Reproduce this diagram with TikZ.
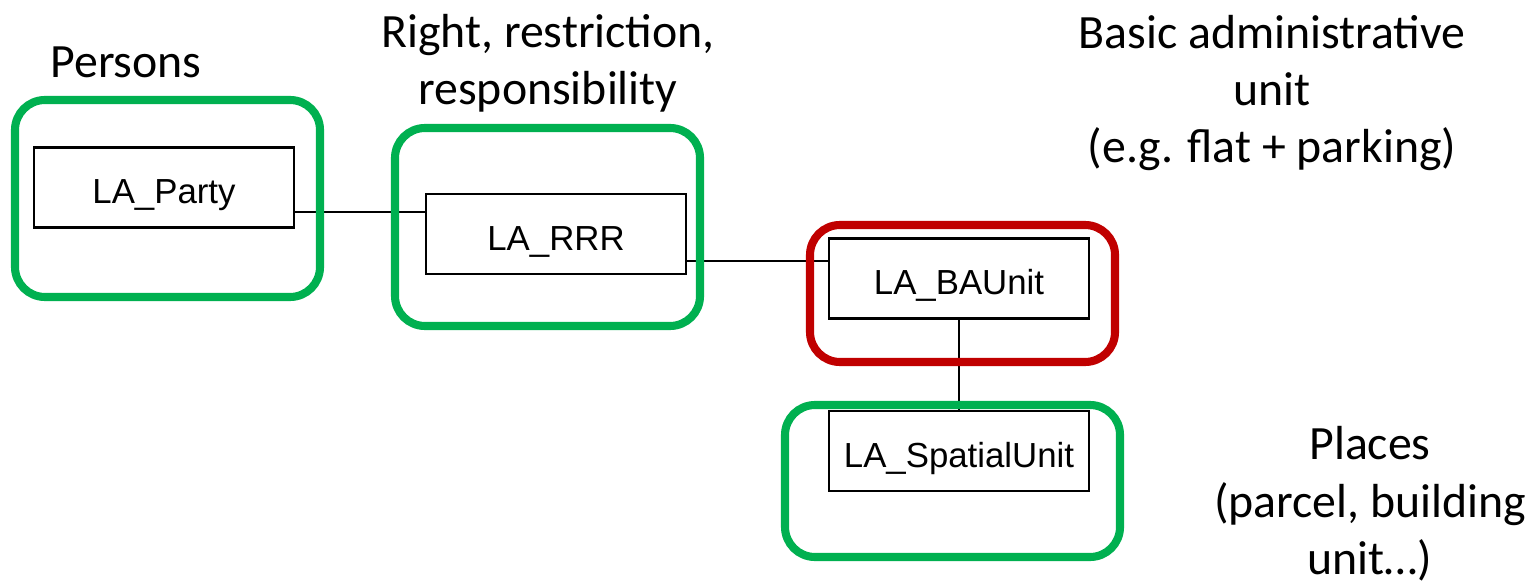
\documentclass[tikz,border=0pt]{standalone}
\usepackage{fontspec}
\setmainfont{Carlito}
\newfontfamily\umlfont{Liberation Sans}
\usetikzlibrary{calc,positioning}
\definecolor{hlgreen}{HTML}{00B050}
\definecolor{hlred}{HTML}{C00000}

\begin{document}
\begin{tikzpicture}
        \useasboundingbox (0,0) rectangle (15.37,5.83);
        \tikzset{
            umlclass/.style={draw, line width=0.6pt, minimum width=2.6cm, minimum height=0.8cm, inner sep=0pt, text height=0.45cm, text depth=0.12cm, font=\umlfont\fontsize{9.9}{11}\selectfont},
            note/.style={align=center, inner sep=0pt, font=\fontsize{13.6}{16.3}\selectfont},
            hlbox/.style={rounded corners=0.3cm, line width=2.3pt}
        }
        % classes
        \node[umlclass] (party) at (1.64,3.955) {LA\_Party};
        \node[umlclass] (rrr) at (5.56,3.49) {LA\_RRR};
        \node[umlclass] (baunit) at (9.59,3.045) {LA\_BAUnit};
        \node[umlclass] (spatial) at (9.59,1.32) {LA\_SpatialUnit};
        % associations
        \coordinate (p1) at ($(party.south east)!0.2!(party.north east)$);
        \coordinate (r1) at ($(rrr.south east)!0.175!(rrr.north east)$);
        \draw[line width=0.6pt] (p1) -- (p1 -| rrr.west);
        \draw[line width=0.6pt] (r1) -- (r1 -| baunit.west);
        \draw[line width=0.6pt] (baunit.south) -- (spatial.north);
        % highlights
        \draw[hlbox, hlgreen] (0.15,2.86) rectangle (3.20,4.83);
        \draw[hlbox, hlgreen] (3.95,2.57) rectangle (7.00,4.55);
        \draw[hlbox, hlred] (8.10,2.21) rectangle (11.15,3.58);
        \draw[hlbox, hlgreen] (7.85,0.26) rectangle (11.20,1.78);
        % captions
        \node[note] (persons) at (1.26,5.21) {Persons};
        \node[note] (rrrtext) at (5.48,5.20) {Right, restriction,\\responsibility};
        \node[note] (batext) at (12.72,4.90) {Basic administrative\\unit\\(e.g. flat + parking)};
        \node[note, anchor=north] (places) at (13.70,1.57) {Places\\(parcel, building\\unit\dots)};
    \end{tikzpicture}
\end{document}
